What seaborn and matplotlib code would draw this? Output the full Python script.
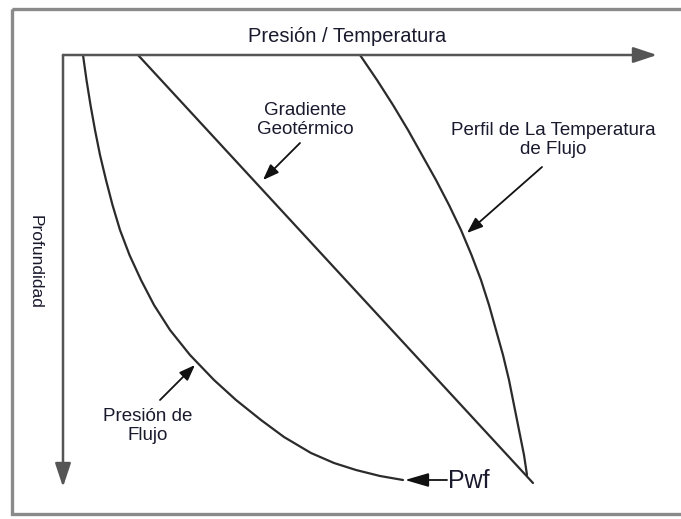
import numpy as np
import pandas as pd
import matplotlib
matplotlib.use("Agg")
import matplotlib.pyplot as plt
import seaborn as sns
from matplotlib.patches import Rectangle

# schematic units, origin at the corner of the two axes, depth grows downward
pres_x = [20, 23.5, 27.5, 32, 37, 43, 49.5, 57, 66.5, 78, 91, 107, 127, 151, 173,
          198, 221, 248, 271, 293, 317, 340]
pres_depth = [0, 25, 50, 75, 100, 125, 150, 175, 200, 225, 250, 275, 300, 325, 345,
              365, 382, 398, 408, 415, 421, 425]

geo_x = [75, 470]
geo_depth = [0, 428]

temp_x = [297, 314, 330, 345, 359, 373, 386, 398, 408.5, 418, 426, 433, 440, 446,
          451, 456, 461, 464]
temp_depth = [0, 25, 50, 75, 100, 125, 150, 175, 200, 225, 250, 275, 300, 325,
              350, 375, 400, 420]

AXIS_LEN_X = 594
AXIS_LEN_Y = 432

LINE = "#2b2b2b"
AXC = "#555555"
TXT = "#1a1a2e"

sns.set_theme(style="white")
plt.rcParams["font.family"] = ["Liberation Sans", "DejaVu Sans"]

fig = plt.figure(figsize=(6.81, 5.19), dpi=100)
ax = fig.add_axes([0, 0, 1, 1])
ax.axis("off")

# outer frame
ax.add_patch(Rectangle((-51, -46), 700, 505, fill=False, ec="#8a8a8a", lw=2.4, zorder=1))

# axes arrows
arrow_ax = dict(arrowstyle="-|>,head_length=1.2,head_width=0.4", color=AXC, lw=1.8,
                shrinkA=0, shrinkB=0)
ax.annotate("", xy=(AXIS_LEN_X, 0), xytext=(0, 0), arrowprops=arrow_ax)
ax.annotate("", xy=(0, AXIS_LEN_Y), xytext=(0, 0), arrowprops=arrow_ax)

# curves
curves = pd.concat([
    pd.DataFrame({"x": pres_x, "depth": pres_depth, "curva": "presion"}),
    pd.DataFrame({"x": geo_x, "depth": geo_depth, "curva": "geotermico"}),
    pd.DataFrame({"x": temp_x, "depth": temp_depth, "curva": "temperatura"}),
])
for name, grp in curves.groupby("curva", sort=False):
    sns.lineplot(data=grp, x="x", y="depth", sort=False, estimator=None,
                 color=LINE, lw=1.6, ax=ax)
ax.set_xlim(-63, 618)
ax.set_ylim(464, -55)
ax.axis("off")

# labels
ax.text(284, -18, "Presión / Temperatura", ha="center", va="center", fontsize=14.5, color=TXT)
ax.text(-28, 207, "Profundidad", ha="center", va="center", rotation=-90, fontsize=12.5, color=TXT)

arrow_lab = dict(arrowstyle="-|>,head_length=0.8,head_width=0.3", color="#111111", lw=1.3,
                 shrinkA=0, shrinkB=0)
ax.text(242, 65, "Gradiente\nGeotérmico", ha="center", va="center", fontsize=13.5,
        color=TXT, linespacing=1.1)
ax.annotate("", xy=(200, 125), xytext=(237, 88), arrowprops=arrow_lab)

ax.text(490, 85, "Perfil de La Temperatura\nde Flujo", ha="center", va="center", fontsize=13.5,
        color=TXT, linespacing=1.1)
ax.annotate("", xy=(404, 178), xytext=(479, 112), arrowprops=arrow_lab)

ax.text(85, 371, "Presión de\nFlujo", ha="center", va="center", fontsize=13.5,
        color=TXT, linespacing=1.1)
ax.annotate("", xy=(132, 310), xytext=(97, 345), arrowprops=arrow_lab)

# Pwf
ax.annotate("", xy=(342, 425), xytext=(384, 425),
            arrowprops=dict(arrowstyle="-|>,head_length=1.2,head_width=0.35", color="#111111",
                            lw=1.3, shrinkA=0, shrinkB=0))
ax.text(385, 426, "Pwf", ha="left", va="center", fontsize=18, color=TXT)

fig.savefig("out.png", dpi=100)
